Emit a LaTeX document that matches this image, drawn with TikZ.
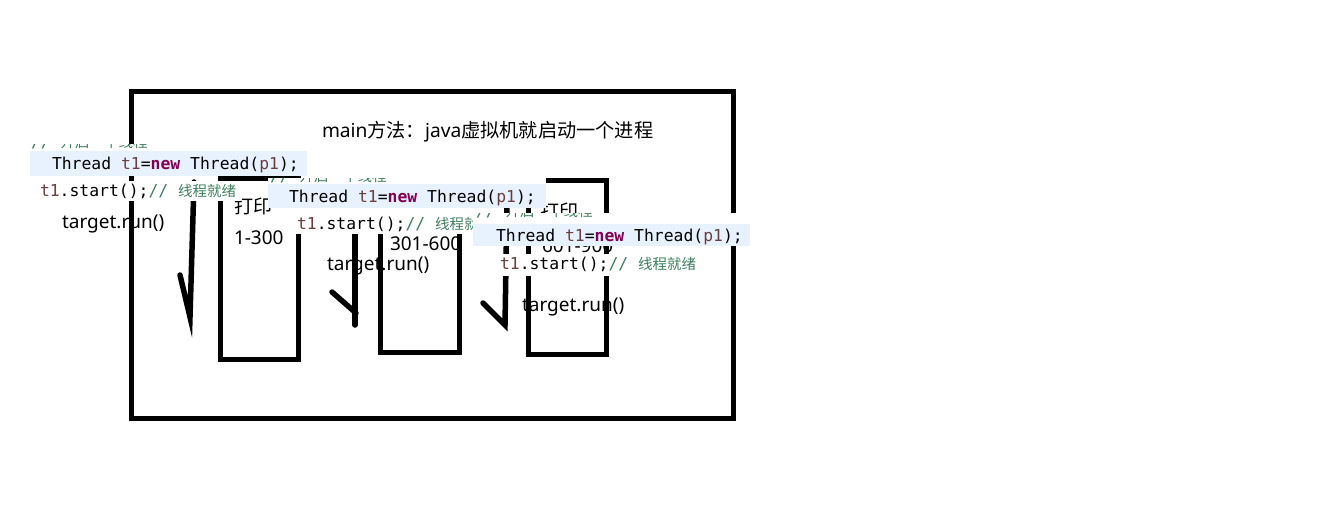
\documentclass[tikz,border=0pt]{standalone}
\usepackage{fontspec}
\usepackage{xcolor}
\usepackage{tikz}
\setmainfont{Noto Sans}
\newfontfamily\cjk{Noto Sans CJK SC}
\newfontfamily\codefont{DejaVu Sans Mono}
\definecolor{kwc}{HTML}{7F0055}
\definecolor{varc}{HTML}{6A3E3E}
\definecolor{cmtc}{HTML}{3F7F5F}
\definecolor{bandc}{HTML}{E8F2FE}
\newcommand{\threadline}{{\codefont\fontsize{16.4}{18}\selectfont Thread \textcolor{varc}{t1}=\textcolor{kwc}{\bfseries new} Thread(\textcolor{varc}{p1});}}
\newcommand{\startline}{{\codefont\fontsize{16.4}{18}\selectfont\textcolor{varc}{t1}.start();\textcolor{cmtc}{// {\cjk\fontsize{14.5}{16}\selectfont 线程就绪}}}}
\newcommand{\openline}{{\codefont\fontsize{16.4}{18}\selectfont\textcolor{cmtc}{// {\cjk\fontsize{14.5}{16}\selectfont 开启一个线程}}}}
\begin{document}
\begin{tikzpicture}[x=1pt,y=-1pt,
  every node/.style={inner sep=0pt,outer sep=0pt},
  frame/.style={draw=black,line width=5pt},
  stroke/.style={draw=black,line width=5.5pt,line cap=round},
  piece/.style={fill=white},
  band/.style={fill=bandc},
  label/.style={anchor=base west,font=\fontsize{19}{20}\selectfont}]
\useasboundingbox (0,0) rectangle (1324,530);
% process and the three threads
\draw [frame] (131.5,91.5) rectangle (733.5,418.5);
\draw [frame] (220.5,178.5) rectangle (298.5,359.5);
\draw [frame] (380.5,182) rectangle (459.5,352.5);
\draw [frame] (528.5,180.5) rectangle (606.5,354.5);
% hand drawn arrows
\coordinate (a1top) at (194,182);
\coordinate (a1tip) at (190,317);
\coordinate (a1wing) at (180,275);
\coordinate (a2top) at (355,190);
\coordinate (a2tip) at (355,325);
\coordinate (a2wing) at (332,292);
\coordinate (a2join) at (356,313);
\coordinate (a3top) at (507,200);
\coordinate (a3tip) at (505,325);
\coordinate (a3wing) at (483,303);
\draw [stroke] (a1top) -- (a1tip) -- (a1wing);
\draw [stroke] (a2top) -- (a2tip);
\draw [stroke] (a2wing) -- (a2join);
\draw [stroke] (a3top) -- (a3tip) -- (a3wing);
% texts
\node (title) [label,font=\fontsize{19.2}{20}\selectfont] at (322,137) {main{\cjk 方法：}java{\cjk 虚拟机就启动一个进程}};
\node (print1) [label] at (234,213) {\cjk 打印};
\node (range1) [label] at (234,244) {1-300};
\node (range2) [label] at (390,250) {301-600};
\node (print3) [label] at (540,218) {\cjk 打印};
\node (range3) [label] at (542,252) {601-900};
\node (run1) [label] at (62,228) {target.run()};
\node (run2) [label] at (327,270) {target.run()};
\node (run3) [label] at (522,311) {target.run()};
% first thread code
\fill [piece] (30,144) rectangle (307,176);
\begin{scope}
\clip (30,144) rectangle (307,151);
\node (open1) [anchor=base west] at (31,147) {\openline};
\end{scope}
\fill [band] (30,151) rectangle (307,176);
\node (new1) [anchor=base west] at (52,169) {\threadline};
\fill [piece] (35,181) rectangle (240,201);
\node (start1) [anchor=base west] at (40,196) {\startline};
% second thread code
\fill [piece] (268,178) rectangle (546,208);
\begin{scope}
\clip (268,178) rectangle (546,184);
\node (open2) [anchor=base west] at (270,181) {\openline};
\end{scope}
\fill [band] (268,184) rectangle (546,208);
\node (new2) [anchor=base west] at (289,202) {\threadline};
\fill [piece] (290,208) rectangle (498,234);
\node (start2) [anchor=base west] at (297,229) {\startline};
% third thread code
\fill [piece] (473,213) rectangle (750,246);
\begin{scope}
\clip (473,213) rectangle (750,224);
\node (open3) [anchor=base west] at (476,216) {\openline};
\end{scope}
\fill [band] (473,224) rectangle (750,246);
\node (new3) [anchor=base west] at (496,241) {\threadline};
\fill [piece] (497,254) rectangle (702,276);
\node (start3) [anchor=base west] at (500,269) {\startline};
\end{tikzpicture}
\end{document}
